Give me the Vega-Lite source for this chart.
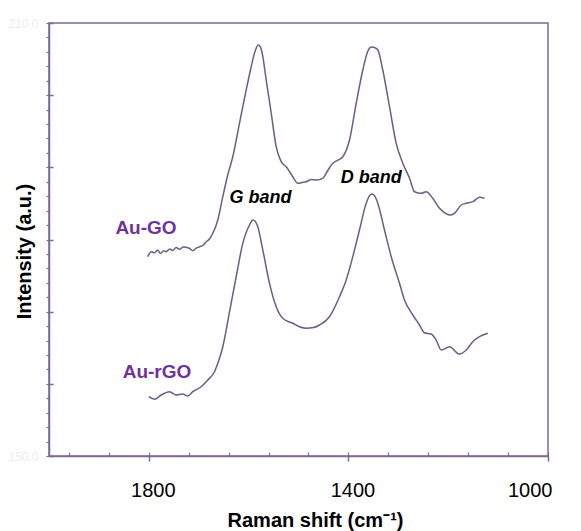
{
  "$schema": "https://vega.github.io/schema/vega-lite/v6.json",
  "width": 499,
  "height": 433,
  "autosize": "none",
  "padding": {"left": 49, "top": 23, "right": 33, "bottom": 75},
  "background": "white",
  "config": {
    "view": {"stroke": "#7a6a9a", "strokeWidth": 1.5},
    "font": "Liberation Sans"
  },
  "datasets": {
    "spectra": [
      {"sample": "Au-GO", "shift": 1802.0, "intensity": 177.62},
      {"sample": "Au-GO", "shift": 1795.0, "intensity": 178.3},
      {"sample": "Au-GO", "shift": 1788.6, "intensity": 178.17},
      {"sample": "Au-GO", "shift": 1782.0, "intensity": 178.5},
      {"sample": "Au-GO", "shift": 1776.6, "intensity": 178.06},
      {"sample": "Au-GO", "shift": 1770.0, "intensity": 178.45},
      {"sample": "Au-GO", "shift": 1765.1, "intensity": 178.31},
      {"sample": "Au-GO", "shift": 1758.0, "intensity": 178.7},
      {"sample": "Au-GO", "shift": 1752.5, "intensity": 178.48},
      {"sample": "Au-GO", "shift": 1745.0, "intensity": 178.9},
      {"sample": "Au-GO", "shift": 1738.5, "intensity": 178.64},
      {"sample": "Au-GO", "shift": 1731.0, "intensity": 178.95},
      {"sample": "Au-GO", "shift": 1725.1, "intensity": 178.92},
      {"sample": "Au-GO", "shift": 1718.0, "intensity": 178.75},
      {"sample": "Au-GO", "shift": 1711.8, "intensity": 178.45},
      {"sample": "Au-GO", "shift": 1705.0, "intensity": 178.8},
      {"sample": "Au-GO", "shift": 1698.4, "intensity": 179.0},
      {"sample": "Au-GO", "shift": 1691.0, "intensity": 179.2},
      {"sample": "Au-GO", "shift": 1685.0, "intensity": 179.69},
      {"sample": "Au-GO", "shift": 1678.0, "intensity": 180.1},
      {"sample": "Au-GO", "shift": 1671.7, "intensity": 180.86},
      {"sample": "Au-GO", "shift": 1661.7, "intensity": 182.7},
      {"sample": "Au-GO", "shift": 1651.7, "intensity": 185.93},
      {"sample": "Au-GO", "shift": 1642.3, "intensity": 188.8},
      {"sample": "Au-GO", "shift": 1631.7, "intensity": 191.47},
      {"sample": "Au-GO", "shift": 1618.2, "intensity": 196.14},
      {"sample": "Au-GO", "shift": 1604.8, "intensity": 200.72},
      {"sample": "Au-GO", "shift": 1594.8, "intensity": 203.94},
      {"sample": "Au-GO", "shift": 1586.2, "intensity": 206.26},
      {"sample": "Au-GO", "shift": 1580.8, "intensity": 206.95},
      {"sample": "Au-GO", "shift": 1576.5, "intensity": 206.7},
      {"sample": "Au-GO", "shift": 1572.7, "intensity": 205.8},
      {"sample": "Au-GO", "shift": 1564.7, "intensity": 202.1},
      {"sample": "Au-GO", "shift": 1554.7, "intensity": 197.53},
      {"sample": "Au-GO", "shift": 1544.7, "intensity": 192.86},
      {"sample": "Au-GO", "shift": 1534.7, "intensity": 190.78},
      {"sample": "Au-GO", "shift": 1524.6, "intensity": 190.09},
      {"sample": "Au-GO", "shift": 1511.4, "intensity": 188.7},
      {"sample": "Au-GO", "shift": 1501.4, "intensity": 187.79},
      {"sample": "Au-GO", "shift": 1492.0, "intensity": 187.9},
      {"sample": "Au-GO", "shift": 1484.6, "intensity": 188.01},
      {"sample": "Au-GO", "shift": 1474.0, "intensity": 188.3},
      {"sample": "Au-GO", "shift": 1464.5, "intensity": 188.24},
      {"sample": "Au-GO", "shift": 1451.3, "intensity": 188.48},
      {"sample": "Au-GO", "shift": 1441.0, "intensity": 189.6},
      {"sample": "Au-GO", "shift": 1431.3, "intensity": 190.56},
      {"sample": "Au-GO", "shift": 1421.0, "intensity": 191.0},
      {"sample": "Au-GO", "shift": 1411.2, "intensity": 191.47},
      {"sample": "Au-GO", "shift": 1397.8, "intensity": 193.79},
      {"sample": "Au-GO", "shift": 1384.4, "intensity": 198.87},
      {"sample": "Au-GO", "shift": 1371.1, "intensity": 203.49},
      {"sample": "Au-GO", "shift": 1361.7, "intensity": 205.98},
      {"sample": "Au-GO", "shift": 1353.7, "intensity": 206.67},
      {"sample": "Au-GO", "shift": 1345.7, "intensity": 206.54},
      {"sample": "Au-GO", "shift": 1341.1, "intensity": 206.26},
      {"sample": "Au-GO", "shift": 1331.1, "intensity": 203.49},
      {"sample": "Au-GO", "shift": 1317.6, "intensity": 198.4},
      {"sample": "Au-GO", "shift": 1304.2, "intensity": 193.33},
      {"sample": "Au-GO", "shift": 1291.0, "intensity": 190.56},
      {"sample": "Au-GO", "shift": 1277.6, "intensity": 188.52},
      {"sample": "Au-GO", "shift": 1267.5, "intensity": 186.62},
      {"sample": "Au-GO", "shift": 1254.1, "intensity": 186.4},
      {"sample": "Au-GO", "shift": 1244.1, "intensity": 186.62},
      {"sample": "Au-GO", "shift": 1230.9, "intensity": 185.71},
      {"sample": "Au-GO", "shift": 1217.4, "intensity": 184.32},
      {"sample": "Au-GO", "shift": 1207.0, "intensity": 183.7},
      {"sample": "Au-GO", "shift": 1197.4, "intensity": 183.39},
      {"sample": "Au-GO", "shift": 1187.4, "intensity": 183.63},
      {"sample": "Au-GO", "shift": 1173.9, "intensity": 184.78},
      {"sample": "Au-GO", "shift": 1163.9, "intensity": 185.02},
      {"sample": "Au-GO", "shift": 1150.7, "intensity": 185.24},
      {"sample": "Au-GO", "shift": 1137.3, "intensity": 185.85},
      {"sample": "Au-GO", "shift": 1127.3, "intensity": 185.71},
      {"sample": "Au-rGO", "shift": 1800.0, "intensity": 158.22},
      {"sample": "Au-rGO", "shift": 1788.6, "intensity": 157.86},
      {"sample": "Au-rGO", "shift": 1775.2, "intensity": 158.45},
      {"sample": "Au-rGO", "shift": 1758.5, "intensity": 158.91},
      {"sample": "Au-rGO", "shift": 1745.1, "intensity": 158.45},
      {"sample": "Au-rGO", "shift": 1731.9, "intensity": 158.59},
      {"sample": "Au-rGO", "shift": 1721.8, "intensity": 158.31},
      {"sample": "Au-rGO", "shift": 1711.8, "intensity": 158.91},
      {"sample": "Au-rGO", "shift": 1695.0, "intensity": 159.6},
      {"sample": "Au-rGO", "shift": 1681.8, "intensity": 160.53},
      {"sample": "Au-rGO", "shift": 1668.3, "intensity": 161.68},
      {"sample": "Au-rGO", "shift": 1661.7, "intensity": 162.84},
      {"sample": "Au-rGO", "shift": 1651.7, "intensity": 165.14},
      {"sample": "Au-rGO", "shift": 1638.3, "intensity": 169.95},
      {"sample": "Au-rGO", "shift": 1624.9, "intensity": 174.84},
      {"sample": "Au-rGO", "shift": 1611.6, "intensity": 179.47},
      {"sample": "Au-rGO", "shift": 1598.2, "intensity": 182.01},
      {"sample": "Au-rGO", "shift": 1591.6, "intensity": 182.7},
      {"sample": "Au-rGO", "shift": 1586.5, "intensity": 182.5},
      {"sample": "Au-rGO", "shift": 1581.6, "intensity": 181.77},
      {"sample": "Au-rGO", "shift": 1571.5, "intensity": 178.54},
      {"sample": "Au-rGO", "shift": 1558.1, "intensity": 173.93},
      {"sample": "Au-rGO", "shift": 1544.7, "intensity": 170.69},
      {"sample": "Au-rGO", "shift": 1531.5, "intensity": 169.08},
      {"sample": "Au-rGO", "shift": 1511.4, "intensity": 168.39},
      {"sample": "Au-rGO", "shift": 1498.0, "intensity": 167.9},
      {"sample": "Au-rGO", "shift": 1484.6, "intensity": 167.69},
      {"sample": "Au-rGO", "shift": 1470.0, "intensity": 167.8},
      {"sample": "Au-rGO", "shift": 1457.9, "intensity": 168.15},
      {"sample": "Au-rGO", "shift": 1437.9, "intensity": 169.3},
      {"sample": "Au-rGO", "shift": 1417.8, "intensity": 172.07},
      {"sample": "Au-rGO", "shift": 1404.4, "intensity": 174.39},
      {"sample": "Au-rGO", "shift": 1391.2, "intensity": 177.62},
      {"sample": "Au-rGO", "shift": 1377.8, "intensity": 181.32},
      {"sample": "Au-rGO", "shift": 1364.3, "intensity": 185.02},
      {"sample": "Au-rGO", "shift": 1356.0, "intensity": 186.2},
      {"sample": "Au-rGO", "shift": 1352.3, "intensity": 186.3},
      {"sample": "Au-rGO", "shift": 1347.0, "intensity": 186.0},
      {"sample": "Au-rGO", "shift": 1341.1, "intensity": 185.02},
      {"sample": "Au-rGO", "shift": 1327.7, "intensity": 181.32},
      {"sample": "Au-rGO", "shift": 1314.2, "intensity": 177.62},
      {"sample": "Au-rGO", "shift": 1297.6, "intensity": 173.93},
      {"sample": "Au-rGO", "shift": 1287.6, "intensity": 171.62},
      {"sample": "Au-rGO", "shift": 1270.9, "intensity": 169.54},
      {"sample": "Au-rGO", "shift": 1257.5, "intensity": 168.15},
      {"sample": "Au-rGO", "shift": 1247.5, "intensity": 167.08},
      {"sample": "Au-rGO", "shift": 1234.1, "intensity": 166.9},
      {"sample": "Au-rGO", "shift": 1224.1, "intensity": 166.07},
      {"sample": "Au-rGO", "shift": 1214.0, "intensity": 164.69},
      {"sample": "Au-rGO", "shift": 1197.4, "intensity": 165.14},
      {"sample": "Au-rGO", "shift": 1177.4, "intensity": 164.13},
      {"sample": "Au-rGO", "shift": 1163.9, "intensity": 164.69},
      {"sample": "Au-rGO", "shift": 1150.7, "intensity": 165.84},
      {"sample": "Au-rGO", "shift": 1137.3, "intensity": 166.53},
      {"sample": "Au-rGO", "shift": 1120.6, "intensity": 167.0}
    ],
    "samples": [
      {"label": "Au-GO", "shift": 1805.6, "intensity": 181.6},
      {"label": "Au-rGO", "shift": 1783.6, "intensity": 161.7}
    ],
    "bands": [
      {"label": "G band", "shift": 1576.2, "intensity": 185.75},
      {"label": "D band", "shift": 1354.3, "intensity": 188.5}
    ]
  },
  "resolve": {"axis": {"x": "independent", "y": "independent"}},
  "layer": [
    {
      "data": {"name": "spectra"},
      "mark": {"type": "line", "strokeWidth": 1.5, "interpolate": "monotone"},
      "encoding": {
        "x": {
          "field": "shift", "type": "quantitative",
          "scale": {"domain": [1000, 2000], "reverse": true, "nice": false, "zero": false},
          "axis": {
            "orient": "bottom",
            "values": [1000, 1400, 1800],
            "format": "d",
            "grid": false,
            "domainColor": "#7a6a9a", "domainWidth": 1.5,
            "tickColor": "#7a6a9a", "tickWidth": 1.5, "tickSize": 5,
            "labelFont": "Liberation Sans", "labelFontSize": 20, "labelColor": "#000000",
            "labelPadding": 19, "labelOffset": 4, "labelBaseline": "top",
            "title": "Raman shift (cm⁻¹)",
            "titleFont": "Liberation Sans", "titleFontSize": 20, "titleFontWeight": "bold",
            "titleColor": "#000000",
            "titleX": 266, "titleY": 64, "titleAlign": "center", "titleBaseline": "middle"
          }
        },
        "y": {
          "field": "intensity", "type": "quantitative",
          "scale": {"domain": [150, 210], "nice": false, "zero": false},
          "axis": {
            "orient": "left",
            "values": [150,152,154,156,158,160,162,164,166,168,170,172,174,176,178,180,182,184,186,188,190,192,194,196,198,200,202,204,206,208,210],
            "grid": false,
            "domainColor": "#7a6a9a", "domainWidth": 1.5,
            "tickColor": "#7a6a9a", "tickWidth": 1.2, "tickSize": 3,
            "labelExpr": "datum.value == 150 || datum.value == 210 ? format(datum.value, '.1f') : ''",
            "labelFont": "Liberation Sans", "labelFontSize": 12, "labelColor": "#ececec",
            "labelPadding": 8,
            "title": "Intensity (a.u.)",
            "titleFont": "Liberation Sans", "titleFontSize": 20, "titleFontWeight": "bold",
            "titleColor": "#000000",
            "titleX": -25, "titleY": 228, "titleAngle": -90,
            "titleAlign": "center", "titleBaseline": "middle"
          }
        },
        "detail": {"field": "sample", "type": "nominal"},
        "color": {"value": "#6b5b8e"}
      }
    },
    {
      "data": {"name": "samples"},
      "mark": {"type": "text", "font": "Liberation Sans", "fontSize": 19, "fontWeight": "bold", "color": "#7030a0", "align": "center", "baseline": "middle"},
      "encoding": {
        "x": {
          "field": "shift", "type": "quantitative",
          "axis": {
            "orient": "bottom",
            "values": [1000,1080,1160,1240,1320,1400,1480,1560,1640,1720,1800,1880,1960],
            "grid": false, "domain": false, "labels": false, "title": null,
            "tickColor": "#7a6a9a", "tickWidth": 1.2, "tickSize": -4
          }
        },
        "y": {
          "field": "intensity", "type": "quantitative",
          "axis": {
            "orient": "left",
            "values": [150,160,170,180,190,200,210],
            "grid": false, "domain": false, "labels": false, "title": null,
            "tickColor": "#7a6a9a", "tickWidth": 1.5, "tickSize": -4
          }
        },
        "text": {"field": "label", "type": "nominal"}
      }
    },
    {
      "data": {"name": "bands"},
      "mark": {"type": "text", "font": "Liberation Sans", "fontSize": 18, "fontWeight": "bold", "fontStyle": "italic", "color": "#000000", "align": "center", "baseline": "middle"},
      "encoding": {
        "x": {"field": "shift", "type": "quantitative", "axis": null},
        "y": {"field": "intensity", "type": "quantitative", "axis": null},
        "text": {"field": "label", "type": "nominal"}
      }
    }
  ]
}
